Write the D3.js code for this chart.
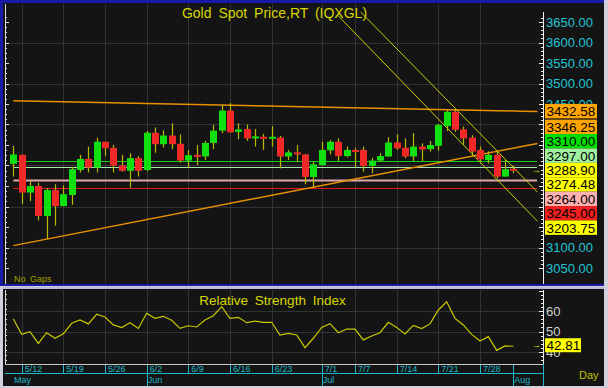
<!DOCTYPE html>
<html><head><meta charset="utf-8">
<script src="https://cdn.jsdelivr.net/npm/d3@7"></script>
<style>
body{margin:0;background:#d0d0dc;overflow:hidden}
svg{display:block}
text{font-family:"Liberation Sans",Arial,sans-serif}
</style>
</head><body>
<script>
// ---------- DATA ----------
const dates = ["5/9","5/12","5/13","5/14","5/15","5/16","5/19","5/20","5/21","5/22","5/23",
"5/26","5/27","5/28","5/29","5/30","6/2","6/3","6/4","6/5","6/6","6/9","6/10","6/11","6/12","6/13",
"6/16","6/17","6/18","6/19","6/20","6/23","6/24","6/25","6/26","6/27","6/30","7/1","7/2","7/3","7/4",
"7/7","7/8","7/9","7/10","7/11","7/14","7/15","7/16","7/17","7/18","7/21","7/22","7/23","7/24","7/25",
"7/28","7/29","7/30","7/31","8/1"];
const opens  = [3304,3326,3234,3250,3177,3240,3201,3228,3289,3316,3295,3358,3343,3300,3287,3318,3289,3380,3352,3373,3353,3312,3326,3322,3355,3385,3434,3382,3389,3366,3370,3366,3368,3322,3332,3327,3272,3301,3337,3358,3323,3338,3338,3299,3312,3322,3356,3343,3322,3346,3340,3348,3396,3431,3388,3368,3338,3313,3326,3273,3292];
const highs  = [3348,3327,3262,3258,3245,3254,3251,3297,3326,3346,3368,3358,3350,3326,3330,3323,3384,3393,3386,3403,3376,3338,3350,3360,3399,3448,3452,3403,3400,3389,3377,3396,3372,3338,3350,3328,3309,3358,3362,3366,3346,3343,3346,3319,3330,3369,3376,3366,3379,3354,3360,3401,3435,3438,3395,3374,3346,3335,3334,3313,3300];
const lows   = [3273,3206,3213,3166,3121,3153,3200,3204,3283,3283,3283,3323,3283,3285,3246,3273,3286,3331,3344,3340,3307,3295,3301,3313,3340,3379,3380,3364,3360,3346,3338,3346,3293,3313,3309,3254,3247,3300,3327,3311,3320,3297,3285,3281,3309,3321,3338,3318,3311,3311,3334,3336,3384,3382,3350,3322,3305,3305,3269,3272,3281];
const closes = [3327,3234,3250,3177,3240,3201,3230,3291,3316,3295,3358,3342,3300,3287,3318,3287,3380,3352,3373,3352,3312,3325,3322,3355,3385,3434,3381,3388,3366,3371,3366,3370,3322,3332,3327,3272,3303,3338,3358,3323,3338,3334,3299,3312,3323,3356,3342,3322,3346,3339,3350,3399,3431,3387,3366,3334,3315,3326,3273,3291,3288.9];
const rsi = [56.1,48.6,49.9,44.2,49.4,46.7,48.9,54.0,55.6,53.7,58.4,57.1,53.2,51.9,54.3,51.5,58.9,56.4,57.4,55.5,51.5,52.8,52.2,55.6,57.7,62.1,56.4,56.9,54.3,55.1,54.5,54.5,48.3,49.1,48.3,42.1,46.7,52.0,53.8,49.4,51.2,51.2,45.9,47.8,49.4,54.5,52.0,48.8,53.0,51.4,53.7,60.5,64.5,56.4,53.2,48.6,45.4,47.5,40.8,43.0,42.81];

const priceTicks = [3050,3100,3150,3200,3250,3300,3350,3400,3450,3500,3550,3600,3650];
const priceGrid  = [3100,3200,3300,3400,3500,3600];
const rsiTicks = [40,50,60];
const dateTicks = ["5/12","5/19","5/26","6/2","6/9","6/16","6/23","7/1","7/7","7/14","7/21","7/28"];
const monthNames = ["May","Jun","Jul","Aug"];
const monthStarts = ["5/9","6/2","7/1","8/1"];

// horizontal level lines
const levelValues = [3310, 3297, 3264, 3245];
const levelColors = ["#10d010","#a8e8a8","#e0a8a8","#e01818"];
// trend lines: [index, price] pairs
const orangeDown = [[0,3458],[61,3432.58],[62.9,3432]];
const orangeUp   = [[0,3104.6],[61,3346.25],[62.9,3353.6]];
const channelA   = [[38.9,3667],[61,3203.75],[62.9,3164]];
const channelB   = [[41.7,3674],[61,3274.48],[62.9,3235]];

// right-side value labels
const labelValues = [3432.58,3346.25,3310.00,3297.00,3288.90,3274.48,3264.00,3245.00,3203.75];
const labelColors = ["#ffa500","#ffa500","#00e000","#a0f0a0","#ffff00","#ffff00","#ffb0b0","#f02020","#ffff00"];
const lastPrice = 3288.90;

// ---------- DRAW ----------
const W = 608, H = 388;
const svg = d3.select("body").append("svg").attr("width",W).attr("height",H);

const x = d3.scaleLinear().domain([0,60]).range([13.33,513.33]);
const y = d3.scaleLinear().domain([3050,3650]).range([268,22]);
const yr = d3.scaleLinear().domain([40,60]).range([352,311]);
const idx = d => dates.indexOf(d);

// frame
svg.append("rect").attr("x",0).attr("y",0).attr("width",W).attr("height",H).attr("fill","#d0d0dc");
svg.append("rect").attr("x",0).attr("y",0).attr("width",604).attr("height",286).attr("fill","#1a1aa8");
svg.append("rect").attr("x",3).attr("y",3).attr("width",601).attr("height",281).attr("fill","#141414");
svg.append("rect").attr("x",3).attr("y",289).attr("width",601).attr("height",97).attr("fill","#141414");

svg.append("clipPath").attr("id","pc").append("rect").attr("x",5).attr("y",4).attr("width",537).attr("height",280);

const main = svg.append("g");
main.selectAll(".hg").data(priceGrid).join("line")
  .attr("x1",6).attr("x2",542).attr("y1",d=>Math.round(y(d))+0.5).attr("y2",d=>Math.round(y(d))+0.5)
  .attr("stroke","#333").attr("stroke-width",1);
main.selectAll(".vg").data(dateTicks).join("line")
  .attr("x1",d=>Math.round(x(idx(d)))+0.5).attr("x2",d=>Math.round(x(idx(d)))+0.5)
  .attr("y1",4).attr("y2",284).attr("stroke","#333");

const leftTicks = d3.range(3050,3670,12.5);
main.selectAll(".lt").data(leftTicks).join("line")
  .attr("x1",5).attr("x2",d=>d%50===0?9:7).attr("y1",d=>Math.round(y(d))+0.5).attr("y2",d=>Math.round(y(d))+0.5)
  .attr("stroke","#ddd");
main.append("line").attr("x1",5.5).attr("x2",5.5).attr("y1",4).attr("y2",284).attr("stroke","#ddd");

main.selectAll(".lv").data(levelValues).join("line")
  .attr("x1",x(0)).attr("x2",537).attr("y1",d=>Math.round(y(d))+0.5).attr("y2",d=>Math.round(y(d))+0.5)
  .attr("stroke",(d,i)=>levelColors[i]).attr("stroke-width",(d,i)=>i===2?2:1.2);

const ln = d3.line().x(d=>x(d[0])).y(d=>y(d[1]));
const tg = main.append("g").attr("clip-path","url(#pc)");
tg.append("path").attr("d",ln(orangeDown)).attr("fill","none").attr("stroke","#e89000").attr("stroke-width",1.5);
tg.append("path").attr("d",ln(orangeUp)).attr("fill","none").attr("stroke","#e89000").attr("stroke-width",1.5);
tg.append("path").attr("d",ln(channelA)).attr("fill","none").attr("stroke","#d0d000").attr("stroke-width",1);
tg.append("path").attr("d",ln(channelB)).attr("fill","none").attr("stroke","#d0d000").attr("stroke-width",1);

const cg = main.append("g");
const cd = dates.map((d,i)=>({i,o:opens[i],h:highs[i],l:lows[i],c:closes[i]}));
cg.selectAll(".wk").data(cd).join("line")
  .attr("x1",d=>Math.round(x(d.i))+0.5).attr("x2",d=>Math.round(x(d.i))+0.5)
  .attr("y1",d=>y(d.h)).attr("y2",d=>y(d.l)).attr("stroke","#b8b800").attr("stroke-width",1.2);
cg.selectAll(".bd").data(cd).join("rect")
  .attr("x",d=>Math.round(x(d.i))-3).attr("width",7)
  .attr("y",d=>y(Math.max(d.o,d.c)))
  .attr("height",d=>Math.max(2,Math.abs(y(d.o)-y(d.c))))
  .attr("fill",d=>d.c>=d.o?"#10e010":"#f02828");

svg.append("text").attr("x",274.5).attr("y",17.5).attr("text-anchor","middle")
  .attr("font-size",14).attr("fill","#d8d800").style("word-spacing","3px")
  .text("Gold Spot Price,RT (IQXGL)");
svg.append("text").attr("x",14).attr("y",282).attr("font-size",9).attr("fill","#a0a000")
  .style("word-spacing","2px").text("No Gaps");

// stacked value label positions
const lh = 14.4;
const ideal = labelValues.map(v=>y(v));
const pos = ideal.slice();
const anchor = labelValues.indexOf(lastPrice);
for(let k=anchor-1;k>=0;k--) pos[k]=Math.min(ideal[k],pos[k+1]-lh);
for(let k=anchor+1;k<pos.length;k++) pos[k]=Math.max(ideal[k],pos[k-1]+lh);
const boxTop = pos[0]-7.2, boxBot = pos[pos.length-1]+7.2;

// right axis
svg.append("line").attr("x1",543.5).attr("x2",543.5).attr("y1",12).attr("y2",284).attr("stroke","#eee");
const rTicks = d3.range(3050,3670,10);
svg.selectAll(".rt").data(rTicks).join("line")
  .attr("x1",d=>d%50===0?539:541).attr("x2",543.5)
  .attr("y1",d=>Math.round(y(d))+0.5).attr("y2",d=>Math.round(y(d))+0.5).attr("stroke","#eee");
svg.selectAll(".rl").data(priceTicks.filter(d=>!(y(d)-5>=boxTop && y(d)+5<=boxBot))).join("text")
  .attr("x",546).attr("y",d=>y(d)+4.5).attr("font-size",13).attr("fill","#20c4d4")
  .text(d=>d3.format(".2f")(d));

const lg = svg.append("g");
lg.selectAll("rect").data(labelValues).join("rect")
  .attr("x",545).attr("width",52).attr("y",(d,i)=>pos[i]-7.2).attr("height",lh)
  .attr("fill",(d,i)=>labelColors[i]);
lg.selectAll("text").data(labelValues).join("text")
  .attr("x",546.5).attr("y",(d,i)=>pos[i]+5).attr("font-size",13.5).attr("fill","#000")
  .text(d=>d3.format(".2f")(d));
svg.append("text").attr("x",532).attr("y",y(lastPrice)+3).attr("font-size",9).attr("fill","#d8d800").text("→");

// ---------- RSI PANEL ----------
const rp = svg.append("g");
rp.append("rect").attr("x",3).attr("y",287).attr("width",601).attr("height",2).attr("fill","#b8b8d8");
rp.selectAll(".rg").data(rsiTicks).join("line")
  .attr("x1",6).attr("x2",542).attr("y1",d=>Math.round(yr(d))+0.5).attr("y2",d=>Math.round(yr(d))+0.5).attr("stroke","#333");
rp.selectAll(".rvg").data(dateTicks).join("line")
  .attr("x1",d=>Math.round(x(idx(d)))+0.5).attr("x2",d=>Math.round(x(idx(d)))+0.5)
  .attr("y1",290).attr("y2",364).attr("stroke","#333");
rp.append("line").attr("x1",5.5).attr("x2",5.5).attr("y1",290).attr("y2",364).attr("stroke","#ddd");
rp.selectAll(".rlt").data(d3.range(36,71,2.5)).join("line")
  .attr("x1",5).attr("x2",d=>d%10===0?9:7).attr("y1",d=>Math.round(yr(d))+0.5).attr("y2",d=>Math.round(yr(d))+0.5).attr("stroke","#ddd");
rp.append("line").attr("x1",543.5).attr("x2",543.5).attr("y1",290).attr("y2",364).attr("stroke","#eee");
rp.selectAll(".rrt").data(d3.range(36,71,2)).join("line")
  .attr("x1",d=>d%10===0?539:541).attr("x2",543.5).attr("y1",d=>Math.round(yr(d))+0.5).attr("y2",d=>Math.round(yr(d))+0.5).attr("stroke","#eee");
rp.append("text").attr("x",272.5).attr("y",305).attr("text-anchor","middle").attr("font-size",13.5)
  .attr("fill","#d8d800").style("word-spacing","3px").text("Relative Strength Index");
rp.append("path").datum(rsi).attr("fill","none").attr("stroke","#c8c800").attr("stroke-width",1.2)
  .attr("d",d3.line().x((d,i)=>x(i)).y(d=>yr(d)));
rp.selectAll(".rtl").data(rsiTicks).join("text")
  .attr("x",546).attr("y",d=>yr(d)+4.5).attr("font-size",13).attr("fill","#d0d0d0").text(d=>d);
const lastR = rsi[rsi.length-1];
rp.append("rect").attr("x",545).attr("y",yr(lastR)-8).attr("width",36).attr("height",14).attr("fill","#ffff00");
rp.append("text").attr("x",546.5).attr("y",yr(lastR)+4).attr("font-size",13.5).attr("fill","#000").text(lastR.toFixed(2));
rp.append("text").attr("x",532).attr("y",yr(lastR)+2).attr("font-size",9).attr("fill","#d8d800").text("→");

// date axis
const da = svg.append("g");
da.append("line").attr("x1",5).attr("x2",543).attr("y1",364.5).attr("y2",364.5).attr("stroke","#c8c8c8");
da.append("line").attr("x1",5).attr("x2",543).attr("y1",373.5).attr("y2",373.5).attr("stroke","#20b8c8");
da.selectAll(".dt").data(dateTicks).join("line")
  .attr("x1",d=>Math.round(x(idx(d)))+0.5).attr("x2",d=>Math.round(x(idx(d)))+0.5)
  .attr("y1",365).attr("y2",373).attr("stroke","#20b8c8");
da.selectAll(".dl").data(dateTicks).join("text")
  .attr("x",d=>x(idx(d))+3).attr("y",372).attr("font-size",9).attr("fill","#20b8c8").text(d=>d);
da.selectAll(".mt").data(monthStarts.slice(1)).join("line")
  .attr("x1",d=>Math.round(x(idx(d)))+0.5).attr("x2",d=>Math.round(x(idx(d)))+0.5)
  .attr("y1",365).attr("y2",386).attr("stroke","#20b8c8");
da.selectAll(".ml").data(monthNames).join("text")
  .attr("x",(d,i)=>i===0?14:x(idx(monthStarts[i]))+1).attr("y",383).attr("font-size",9).attr("fill","#20b8c8").text(d=>d);
da.append("text").attr("x",579).attr("y",379).attr("font-size",11).attr("fill","#c0c000").text("Day");
da.append("line").attr("x1",543.5).attr("x2",543.5).attr("y1",364).attr("y2",386).attr("stroke","#20b8c8");
</script>
</body></html>
